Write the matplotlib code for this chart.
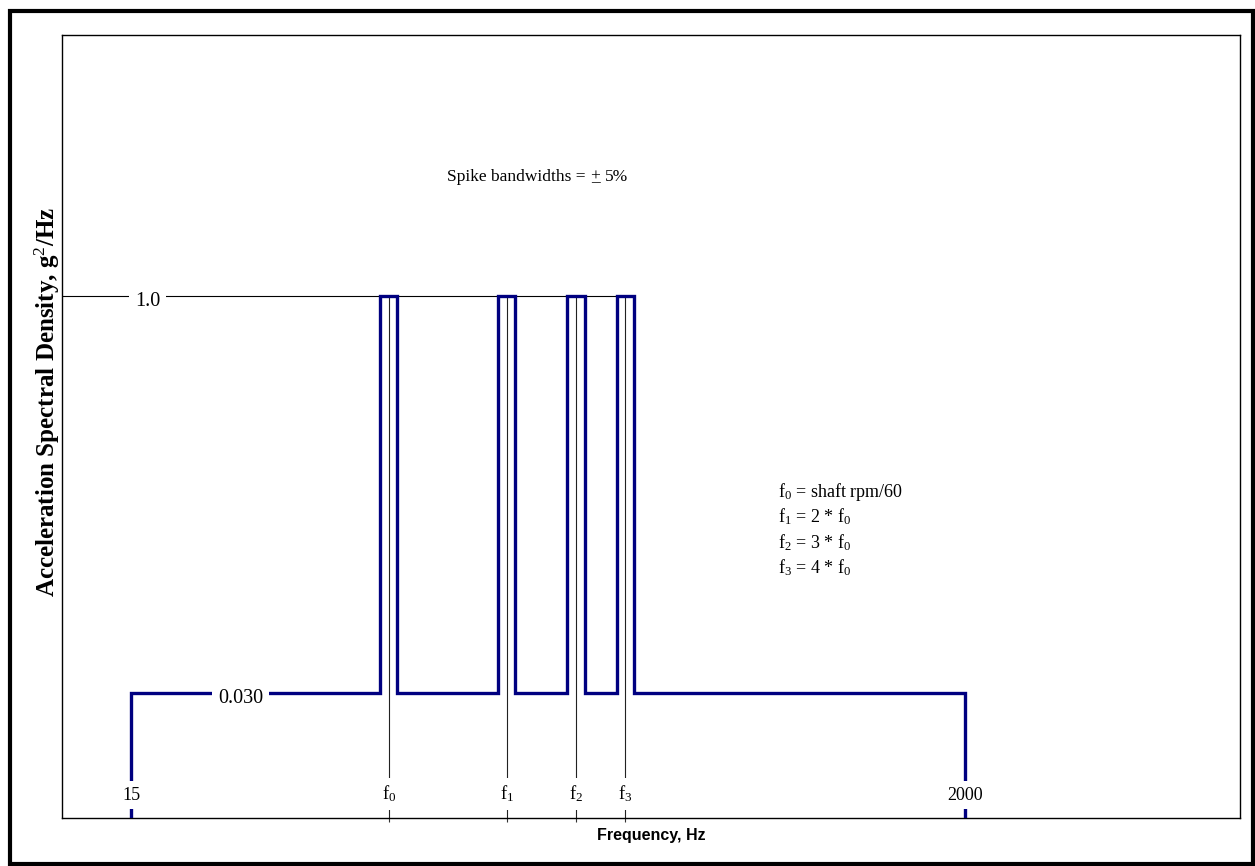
import numpy as np
import matplotlib
matplotlib.use('Agg')
import matplotlib.pyplot as plt
import matplotlib.transforms as mtransforms
from matplotlib.patches import Rectangle
from matplotlib.ticker import NullLocator

# Spectrum definition (schematic)
f_low, f_high = 15, 2000
f0 = 68
harmonic = [1, 2, 3, 4]
spike_labels = ['f$_0$', 'f$_1$', 'f$_2$', 'f$_3$']
bandwidth = 0.05
psd_floor = 0.030
psd_spike = 1.0
x_range = (10, 10000)
y_range = (0.01, 10)
legend_lines = ['f$_0$ = shaft rpm/60', 'f$_1$ = 2 * f$_0$',
                'f$_2$ = 3 * f$_0$', 'f$_3$ = 4 * f$_0$']

plt.rcParams['font.family'] = ['Liberation Serif', 'DejaVu Serif']
plt.rcParams['mathtext.fontset'] = 'custom'
plt.rcParams['mathtext.rm'] = 'Liberation Serif'
plt.rcParams['mathtext.it'] = 'Liberation Serif:italic'
plt.rcParams['mathtext.bf'] = 'Liberation Serif:bold'

spikes = np.array(harmonic) * f0

# step outline of the spectrum
xs = [f_low, f_low]
ys = [y_range[0], psd_floor]
for f in spikes:
    lo, hi = f * (1 - bandwidth), f * (1 + bandwidth)
    xs += [lo, lo, hi, hi]
    ys += [psd_floor, psd_spike, psd_spike, psd_floor]
xs += [f_high, f_high]
ys += [psd_floor, y_range[0]]

fig = plt.figure(figsize=(12.55, 8.66), dpi=100)
ax = fig.add_axes([0.0494, 0.0554, 0.9386, 0.9042])
ax.set_xscale('log')
ax.set_yscale('log')
ax.set_xlim(*x_range)
ax.set_ylim(*y_range)
ax.xaxis.set_minor_locator(NullLocator())
ax.yaxis.set_minor_locator(NullLocator())
ax.set_yticks([])
ax.set_xticks(spikes, labels=[''] * len(spikes))
ax.tick_params(axis='x', direction='out', length=3, width=0.8, color='#333333')
for s in ax.spines.values():
    s.set_linewidth(1.0)

# reference line at the spike level and centre lines
ax.plot([x_range[0], spikes[-1] * (1 + bandwidth)], [psd_spike, psd_spike],
        color='black', lw=0.8, zorder=2)
ax.vlines(spikes, y_range[0], psd_spike, color='#222222', lw=0.8, zorder=2)

ax.plot(xs, ys, color='#000080', lw=2.4, solid_joinstyle='miter', zorder=3)

# bottom labels
trans = mtransforms.blended_transform_factory(ax.transData, ax.transAxes)
box = dict(fc='white', ec='none', pad=4)
for f, lab in zip(spikes, spike_labels):
    ax.text(f, 0.031, lab, transform=trans, ha='center', va='center',
            fontsize=13.5, bbox=box, zorder=5)
for f in [f_low, f_high]:
    ax.text(f, 0.029, str(f), transform=trans, ha='center', va='center',
            fontsize=13, bbox=box, zorder=5)

# level labels
ax.annotate('1.0', xy=(16.5, psd_spike), xytext=(0, -7.5), textcoords='offset points',
            ha='center', va='baseline', fontsize=14.5,
            bbox=dict(fc='white', ec='none', pad=4.5), zorder=5)
ax.annotate('0.030', xy=(28.5, psd_floor), xytext=(0, -6.5), textcoords='offset points',
            ha='center', va='baseline', fontsize=14.5,
            bbox=dict(fc='white', ec='none', pad=4.5), zorder=5)

# bandwidth note with underlined plus sign
t1 = ax.text(0.327, 0.814, 'Spike bandwidths =', transform=ax.transAxes,
             ha='left', va='baseline', fontsize=12.5)
t2 = ax.annotate('+', xy=(1, 0), xycoords=t1, xytext=(3.2, 0),
                 textcoords='offset points', ha='left', va='bottom', fontsize=12.5)
ax.annotate('_', xy=(0.5, 0), xycoords=t2, ha='center', va='bottom', fontsize=12.5)
ax.annotate('5%', xy=(1, 0), xycoords=t2, xytext=(3.2, 0),
            textcoords='offset points', ha='left', va='bottom', fontsize=12.5)

# definitions
for i, line in enumerate(legend_lines):
    ax.text(0.6078, 0.410 - i * 0.0326, line, transform=ax.transAxes,
            ha='left', va='baseline', fontsize=13)

ax.set_ylabel('Acceleration Spectral Density, g$^2$/Hz', fontweight='bold', fontsize=18)
ax.yaxis.set_label_coords(0.0, 0.531)
ax.set_xlabel('Frequency, Hz', fontfamily='Liberation Sans', fontweight='bold', fontsize=11.5)
ax.xaxis.set_label_coords(0.5, -0.0128)

# outer frame
fig.add_artist(Rectangle((10 / 1255, 1 - 864 / 866), 1243 / 1255, 853 / 866,
                         transform=fig.transFigure, fill=False, lw=3, ec='black'))

fig.savefig('out.png', dpi=100)
